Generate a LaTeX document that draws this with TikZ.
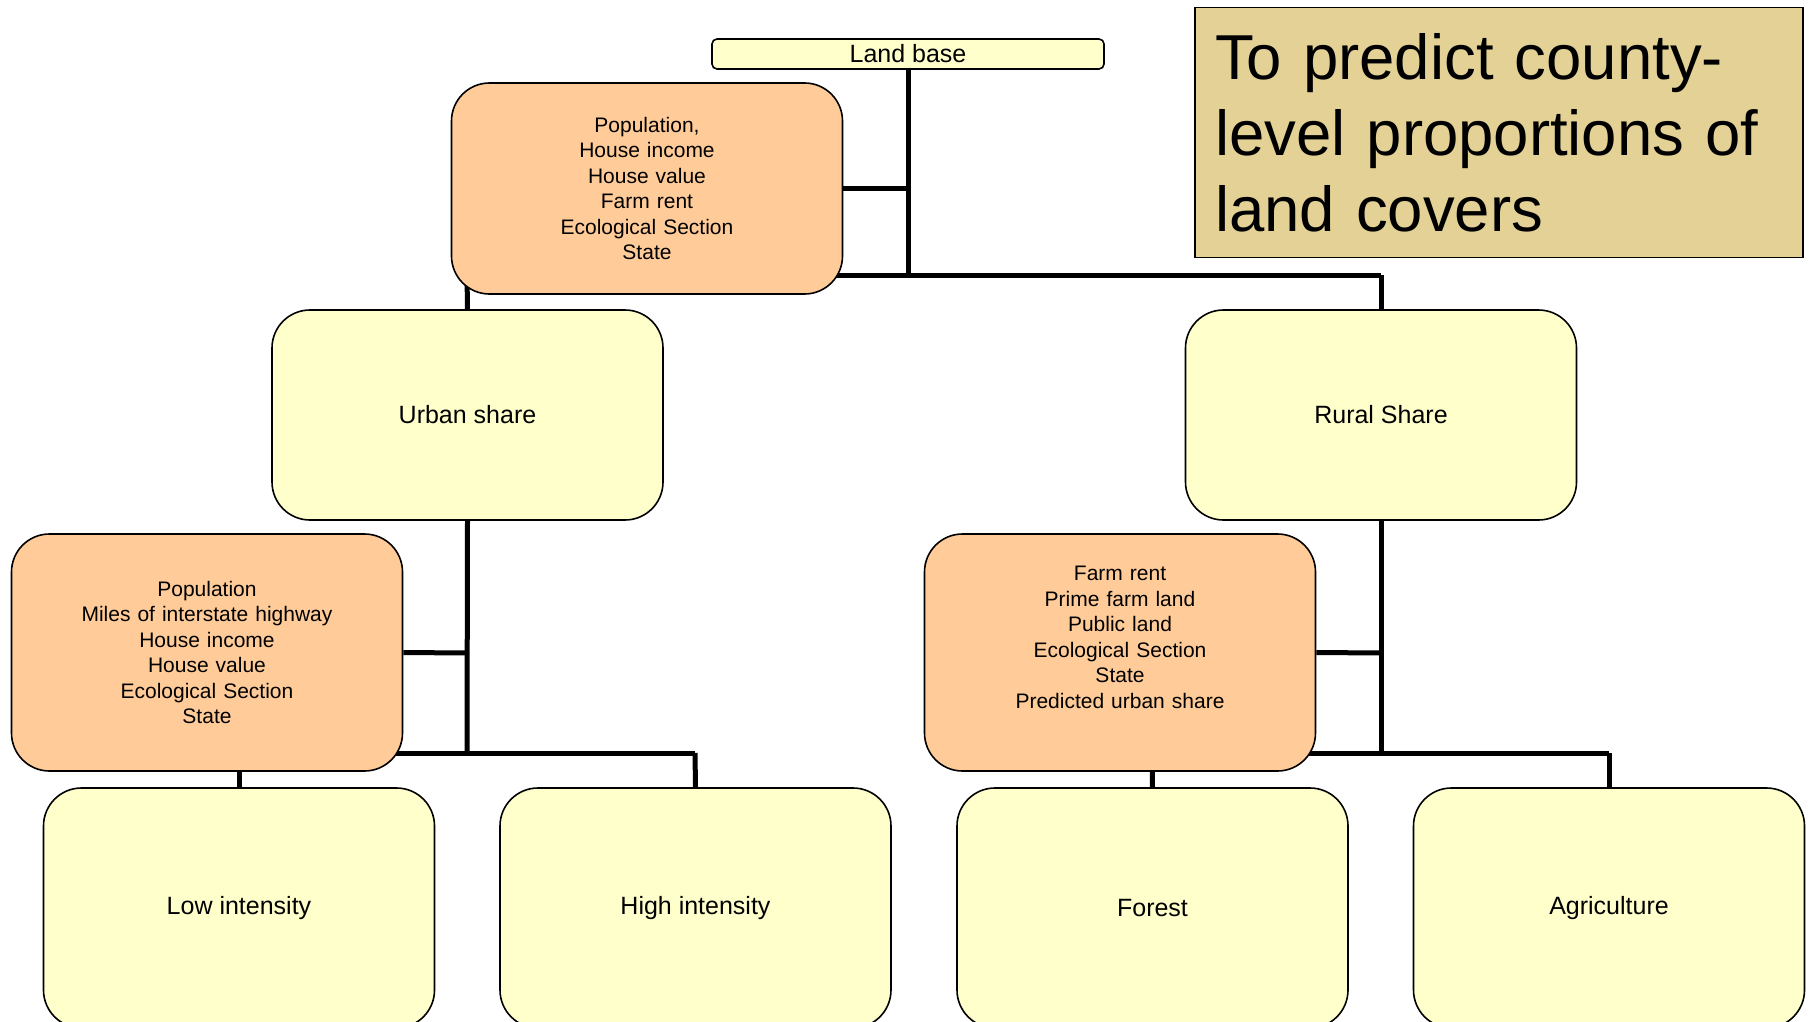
\documentclass[tikz,border=0pt]{standalone}
\usepackage{fontspec}
\setmainfont{Liberation Sans}
\usetikzlibrary{backgrounds}
\definecolor{ylw}{HTML}{FFFFCC}
\definecolor{org}{HTML}{FFCC99}
\definecolor{tan}{HTML}{E3D196}
\begin{document}
\begin{tikzpicture}[x=1pt,y=-1pt,
  box/.style={draw=black, line width=1.6pt, rounded corners=38pt, inner sep=0pt, align=center},
  ybox/.style={box, fill=ylw, minimum width=391pt, minimum height=210pt, font=\fontsize{25}{30}\selectfont},
  obox/.style={box, fill=org, minimum width=391pt, text width=380pt, font=\fontsize{21}{25.5}\selectfont},
  conn/.style={draw=black, line width=5pt}]
\useasboundingbox (0,0) rectangle (1810,1022);
\clip (0,0) rectangle (1810,1022);
% coordinates for connectors
\coordinate (t1) at (908,188.5);
\coordinate (b1) at (908,275);
\coordinate (bl1) at (467,275);
\coordinate (br1) at (1381,275);
\coordinate (ut) at (467,653);
\coordinate (ub) at (467,753);
\coordinate (ubl) at (239,753);
\coordinate (ubr) at (695,753);
\coordinate (rt) at (1381,653);
\coordinate (rb) at (1381,753);
\coordinate (rbl) at (1152,753);
\coordinate (rbr) at (1609,753);
% nodes
\node[box, fill=ylw, rounded corners=5pt, minimum width=392pt, minimum height=30pt, font=\fontsize{25}{30}\selectfont] (land) at (908,54) {Land base};
\node[obox, minimum height=211pt] (top) at (647,188.5) {Population,\\House income\\House value\\Farm rent\\Ecological Section\\State};
\node[ybox] (urban) at (467.5,415) {Urban share};
\node[ybox] (rural) at (1381,415) {Rural Share};
\node[obox, minimum height=237pt] (lo) at (207,652.5) {Population\\Miles of interstate highway\\House income\\House value\\Ecological Section\\State};
\node[obox, minimum height=237pt] (ro) at (1120,652.5) {Farm rent\\Prime farm land\\Public land\\Ecological Section\\State\\Predicted urban share\\[5pt]\mbox{}};
\node[ybox, minimum height=240pt] (low) at (239,908) {Low intensity};
\node[ybox, minimum height=240pt] (high) at (695.5,908) {High intensity};
\node[ybox, minimum height=240pt] (forest) at (1152.5,908) {Forest};
\node[ybox, minimum height=240pt] (agri) at (1609,908) {Agriculture};
% connectors behind the boxes
\begin{scope}[on background layer]
\path[conn] (land.south) -- (b1);
\path[conn] (t1) -- (top.east);
\path[conn] (bl1) -- (br1);
\path[conn] (bl1) -- (urban.north);
\path[conn] (br1) -- (rural.north);
\path[conn] (urban.south) -- (ub);
\path[conn] (ut) -- (lo.east);
\path[conn] (ubl) -- (ubr);
\path[conn] (ubl) -- (low.north);
\path[conn] (ubr) -- (high.north);
\path[conn] (rural.south) -- (rb);
\path[conn] (rt) -- (ro.east);
\path[conn] (rbl) -- (rbr);
\path[conn] (rbl) -- (forest.north);
\path[conn] (rbr) -- (agri.north);
\end{scope}
% title
\node[draw=black, line width=1.8pt, fill=tan, minimum width=608pt, minimum height=250pt, inner xsep=20pt, text width=568pt, align=left, font=\fontsize{63.5}{76}\selectfont] (title) at (1499,132.5) {To predict county-\\level proportions of\\land covers};
\end{tikzpicture}
\end{document}
